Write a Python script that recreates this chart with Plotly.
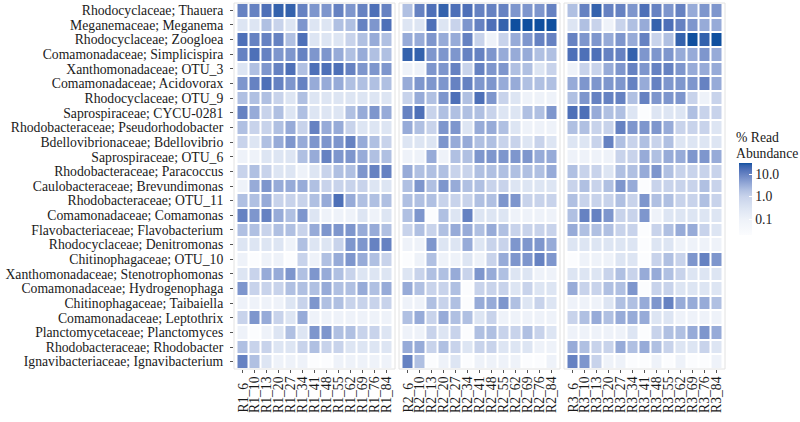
import math
import plotly.graph_objects as go

# ---------------- data ----------------
taxa = [
    "Rhodocyclaceae; Thauera",
    "Meganemaceae; Meganema",
    "Rhodocyclaceae; Zoogloea",
    "Comamonadaceae; Simplicispira",
    "Xanthomonadaceae; OTU_3",
    "Comamonadaceae; Acidovorax",
    "Rhodocyclaceae; OTU_9",
    "Saprospiraceae; CYCU-0281",
    "Rhodobacteraceae; Pseudorhodobacter",
    "Bdellovibrionaceae; Bdellovibrio",
    "Saprospiraceae; OTU_6",
    "Rhodobacteraceae; Paracoccus",
    "Caulobacteraceae; Brevundimonas",
    "Rhodobacteraceae; OTU_11",
    "Comamonadaceae; Comamonas",
    "Flavobacteriaceae; Flavobacterium",
    "Rhodocyclaceae; Denitromonas",
    "Chitinophagaceae; OTU_10",
    "Xanthomonadaceae; Stenotrophomonas",
    "Comamonadaceae; Hydrogenophaga",
    "Chitinophagaceae; Taibaiella",
    "Comamonadaceae; Leptothrix",
    "Planctomycetaceae; Planctomyces",
    "Rhodobacteraceae; Rhodobacter",
    "Ignavibacteriaceae; Ignavibacterium",
]

days = [6, 10, 13, 20, 27, 34, 41, 48, 55, 62, 69, 76, 84]
reactors = ["R1", "R2", "R3"]

# % read abundance, rows follow `taxa`, columns follow `days`
R1 = [
    [10, 10, 16, 24, 24, 10, 6, 6, 10, 6, 10, 16, 10],
    [0.3, 0.3, 2, 1, 0.3, 6, 0.3, 0.3, 2, 2, 10, 6, 16],
    [16, 10, 10, 10, 2, 16, 0.3, 0.3, 0.3, 1, 2, 3.5, 2],
    [10, 16, 10, 6, 6, 10, 6, 6, 3.5, 2, 3.5, 2, 2],
    [0.3, 2, 6, 10, 16, 2, 16, 16, 16, 10, 6, 6, 6],
    [6, 10, 16, 10, 6, 10, 3.5, 3.5, 3.5, 2, 2, 2, 2],
    [2, 2, 2, 1, 0.3, 2, 0.3, 0.3, 0.3, 0.3, 0.3, 0.3, 0.3],
    [10, 3.5, 1, 2, 0.3, 2, 0.3, 0.3, 0.3, 2, 3.5, 6, 3.5],
    [2, 1, 1, 2, 3.5, 1, 10, 3.5, 3.5, 1, 0.3, 0.3, 0.3],
    [1, 0.3, 2, 3.5, 6, 3.5, 6, 6, 6, 10, 3.5, 2, 1],
    [0.1, 0.1, 0.3, 0.3, 0.3, 2, 3.5, 10, 6, 6, 3.5, 2, 2],
    [1, 2, 1, 0.3, 0.3, 0.1, 0.3, 1, 2, 2, 6, 10, 10],
    [0.1, 3.5, 6, 3.5, 3.5, 3.5, 2, 1, 1, 1, 1, 0.3, 0.3],
    [2, 2, 3.5, 1, 1, 1, 2, 3.5, 16, 3.5, 2, 2, 2],
    [10, 6, 10, 3.5, 2, 6, 0.3, 0.1, 0.1, 0.1, 0.3, 0.1, 0.3],
    [2, 2, 1, 2, 2, 1, 3.5, 6, 6, 6, 3.5, 3.5, 2],
    [0.3, 0.3, 0.3, 0.3, 0.1, 2, 0.3, 0.3, 1, 6, 6, 10, 10],
    [0.1, 0.02, 0.1, 0.1, 0.02, 1, 0.1, 2, 3.5, 6, 3.5, 2, 1],
    [0.3, 1, 3.5, 3.5, 6, 2, 6, 3.5, 2, 1, 0.3, 0.3, 0.3],
    [6, 1, 1, 1, 2, 2, 2, 3.5, 2, 2, 3.5, 2, 3.5],
    [0.1, 0.1, 0.1, 0.1, 0.3, 1, 6, 2, 2, 1, 1, 1, 1],
    [1, 6, 3.5, 1, 0.3, 3.5, 0.1, 0.1, 0.1, 0.1, 0.1, 0.1, 0.1],
    [0.1, 0.02, 0.1, 0.3, 2, 0.3, 6, 6, 2, 2, 1, 1, 0.3],
    [2, 1, 1, 0.3, 0.3, 1, 2, 1, 1, 0.3, 0.3, 0.3, 0.3],
    [10, 2, 0.3, 0.1, 0.1, 0.1, 0.02, 0.02, 0.1, 0.1, 0.1, 0.1, 0.1],
]

R2 = [
    [2, 10, 16, 24, 16, 16, 10, 10, 10, 6, 6, 6, 10],
    [0.3, 0.3, 16, 0.3, 1, 6, 10, 16, 24, 35, 35, 35, 35],
    [3.5, 3.5, 6, 3.5, 3.5, 10, 1, 0.1, 1, 3.5, 6, 10, 10],
    [24, 24, 6, 6, 6, 10, 10, 6, 3.5, 3.5, 3.5, 2, 2],
    [0.1, 0.1, 6, 6, 10, 1, 10, 6, 6, 2, 2, 0.3, 1],
    [3.5, 6, 6, 6, 10, 10, 6, 6, 3.5, 3.5, 2, 2, 2],
    [1, 3.5, 2, 6, 16, 2, 16, 6, 1, 0.3, 0.1, 0.1, 0.1],
    [10, 16, 1, 2, 2, 2, 2, 1, 0.3, 0.3, 2, 2, 6],
    [3.5, 2, 1, 6, 6, 0.3, 3.5, 3.5, 2, 0.3, 0.1, 0.1, 0.1],
    [0.3, 0.3, 0.3, 6, 3.5, 3.5, 2, 2, 1, 1, 0.3, 1, 0.3],
    [0.1, 0.1, 3.5, 0.1, 2, 2, 6, 6, 6, 6, 6, 3.5, 3.5],
    [3.5, 2, 2, 2, 1, 1, 2, 2, 2, 2, 2, 2, 3.5],
    [2, 6, 2, 6, 3.5, 2, 2, 1, 1, 0.3, 0.3, 0.3, 0.3],
    [2, 2, 2, 1, 1, 1, 2, 2, 6, 6, 1, 1, 1],
    [2, 6, 0.02, 2, 0.3, 10, 0.3, 0.3, 0.3, 0.1, 0.1, 0.1, 0.1],
    [1, 2, 1, 2, 3.5, 3.5, 2, 3.5, 2, 1, 1, 1, 1],
    [0.1, 0.1, 6, 0.3, 0.3, 3.5, 0.3, 1, 1, 6, 6, 6, 3.5],
    [0.02, 0.1, 2, 0.1, 0.1, 0.3, 0.1, 1, 3.5, 6, 6, 10, 6],
    [0.3, 1, 2, 2, 3.5, 1, 6, 3.5, 2, 0.3, 0.3, 0.1, 0.1],
    [3.5, 2, 1, 1, 2, 0.02, 1, 1, 1, 0.3, 1, 0.3, 0.3],
    [0.1, 0.1, 2, 1, 2, 0.02, 3.5, 3.5, 6, 2, 0.3, 1, 0.3],
    [2, 3.5, 1, 3.5, 2, 2, 0.3, 1, 0.1, 0.1, 0.1, 0.1, 0.1],
    [0.1, 0.1, 1, 0.3, 1, 0.02, 2, 2, 1, 1, 2, 1, 0.3],
    [3.5, 3.5, 1, 2, 1, 0.3, 1, 1, 0.3, 0.3, 0.3, 0.1, 0.1],
    [10, 2, 0.02, 0.1, 0.3, 0.02, 0.1, 0.1, 0.1, 0.1, 0.02, 0.02, 0.1],
]

R3 = [
    [2, 10, 24, 10, 10, 6, 16, 10, 6, 10, 3.5, 6, 6],
    [0.3, 2, 1, 0.1, 1, 2, 3.5, 24, 16, 10, 6, 3.5, 3.5],
    [10, 6, 6, 3.5, 6, 3.5, 10, 1, 2, 24, 35, 24, 35],
    [16, 16, 16, 10, 10, 24, 6, 6, 6, 3.5, 3.5, 6, 3.5],
    [0.1, 1, 1, 3.5, 6, 10, 6, 10, 10, 6, 3.5, 3.5, 3.5],
    [3.5, 6, 6, 6, 6, 10, 3.5, 10, 6, 6, 6, 10, 3.5],
    [2, 6, 10, 10, 10, 2, 10, 6, 6, 6, 1, 0.1, 1],
    [16, 16, 3.5, 2, 2, 0.3, 0.02, 0.3, 0.3, 0.3, 2, 1, 1],
    [2, 2, 1, 1, 10, 6, 6, 6, 3.5, 1, 1, 1, 0.3],
    [0.3, 0.3, 1, 10, 2, 1, 2, 1, 2, 0.3, 0.3, 0.3, 0.3],
    [0.1, 0.1, 0.1, 0.1, 1, 1, 3.5, 2, 3.5, 3.5, 6, 6, 3.5],
    [2, 1, 1, 0.3, 2, 2, 3.5, 6, 2, 1, 1, 1, 1],
    [1, 2, 1, 2, 6, 3.5, 0.02, 1, 1, 1, 1, 2, 1],
    [2, 1, 1, 1, 2, 1, 6, 2, 2, 1, 1, 2, 1],
    [2, 10, 10, 6, 1, 1, 6, 0.1, 0.3, 0.3, 0.3, 0.3, 0.3],
    [3.5, 2, 2, 2, 1, 1, 0.02, 1, 2, 3.5, 3.5, 1, 0.3],
    [0.3, 0.3, 0.3, 0.3, 0.3, 0.3, 0.02, 0.3, 0.3, 0.1, 0.1, 0.1, 0.1],
    [0.02, 0.1, 0.1, 0.1, 0.3, 0.3, 0.02, 1, 2, 1, 6, 10, 6],
    [0.3, 0.3, 0.3, 1, 2, 1, 3.5, 3.5, 2, 1, 0.3, 0.3, 0.3],
    [3.5, 1, 1, 2, 2, 6, 0.02, 1, 1, 0.3, 0.3, 0.3, 0.3],
    [0.1, 0.1, 0.1, 0.3, 2, 2, 3.5, 6, 10, 3.5, 3.5, 3.5, 2],
    [1, 2, 3.5, 2, 3.5, 3.5, 3.5, 0.3, 0.3, 0.1, 0.1, 0.1, 0.1],
    [0.1, 0.1, 0.1, 0.1, 0.1, 0.3, 0.02, 1, 2, 2, 3.5, 6, 3.5],
    [3.5, 2, 1, 1, 3.5, 2, 3.5, 2, 1, 0.3, 0.3, 1, 0.3],
    [10, 6, 1, 0.1, 0.1, 0.02, 0.02, 0.1, 0.02, 0.1, 0.02, 0.02, 0.1],
]

legend_ticks = [0.1, 1.0, 10.0]
legend_ticktext = ["0.1", "1.0", "10.0"]
legend_title_lines = ["% Read", "Abundance"]

# ---------------- styling ----------------
FONT = "Liberation Serif"
FS = 13.7
W, H = 800, 422
ML, MR, MT, MB = 233, 75, 3, 53
PW = W - ML - MR
PH = H - MT - MB

def px_x(x):
    return (x - ML) / PW

def px_y(y):
    return (H - MB - y) / PH

ZMIN, ZMAX = -1.70, 1.49
colorscale = [
    [0.000, "#fbfcfe"],
    [0.219, "#eef2f9"],
    [0.369, "#dde5f3"],
    [0.533, "#c8d3eb"],
    [0.627, "#b0c0e2"],
    [0.703, "#97abd8"],
    [0.777, "#7e96cd"],
    [0.846, "#6682c2"],
    [0.910, "#4e70b8"],
    [0.966, "#3462ad"],
    [1.000, "#0f4f9f"],
]

domains = [(px_x(234), px_x(395)), (px_x(399), px_x(560)), (px_x(564), px_x(725))]
data_by_reactor = [R1, R2, R3]

fig = go.Figure()
for i, (rname, mat) in enumerate(zip(reactors, data_by_reactor)):
    xlabels = [f"{rname}_{d}" for d in days]
    z = [[math.log10(v) for v in row] for row in mat]
    xa = "x" if i == 0 else f"x{i+1}"
    fig.add_trace(go.Heatmap(
        x=xlabels, y=taxa, z=z, customdata=mat,
        xaxis=xa, yaxis="y",
        zmin=ZMIN, zmax=ZMAX, colorscale=colorscale,
        xgap=2, ygap=2,
        showscale=(i == 0),
        hovertemplate="%{y}<br>%{x}: %{customdata}%<extra></extra>",
        colorbar=dict(
            x=px_x(739), xanchor="left", xpad=0,
            y=px_y(163), yanchor="top", ypad=0,
            len=72, lenmode="pixels", thickness=13,
            outlinewidth=0,
            tickvals=[math.log10(t) for t in legend_ticks],
            ticktext=legend_ticktext,
            ticks="inside", tickcolor="white", ticklen=3, tickwidth=1,
            tickfont=dict(family=FONT, size=FS, color="#1a1a1a"),
        ),
    ))
    axname = "xaxis" if i == 0 else f"xaxis{i+1}"
    fig.layout[axname] = dict(
        domain=list(domains[i]), anchor="y", automargin=False,
        type="category", categoryorder="array", categoryarray=xlabels,
        tickmode="array", tickvals=xlabels,
        showgrid=False, zeroline=False, showline=False,
        ticks="outside", ticklen=3, tickwidth=1, tickcolor="#555555",
        showticklabels=False, fixedrange=True,
    )
    fig.add_shape(type="rect", xref=f"{xa} domain", yref="y domain",
                  x0=0, x1=1, y0=0, y1=1,
                  line=dict(color="#e2e2e2", width=1), layer="above")
    for lab in xlabels:
        fig.add_annotation(
            x=lab, xref=xa, y=px_y(414), yref="paper",
            text=lab, textangle=-90, showarrow=False,
            xanchor="center", yanchor="bottom", borderpad=0,
            font=dict(family=FONT, size=FS, color="#1a1a1a"),
        )

fig.update_layout(
    yaxis=dict(
        domain=[0, 1], anchor="x", type="category", automargin=False,
        categoryorder="array", categoryarray=taxa, autorange="reversed",
        tickmode="array", tickvals=taxa, ticktext=taxa,
        showgrid=False, zeroline=False, showline=False,
        ticks="outside", ticklen=3, tickwidth=1, tickcolor="#555555",
        tickfont=dict(family=FONT, size=FS, color="#1a1a1a"),
        ticklabelstandoff=4,
    ),
    width=W, height=H,
    margin=dict(l=ML, r=MR, t=MT, b=MB, pad=0),
    paper_bgcolor="white", plot_bgcolor="white",
    font=dict(family=FONT, size=FS, color="#1a1a1a"),
    showlegend=False,
)

for line, ypix in zip(legend_title_lines, [137.5, 153.5]):
    fig.add_annotation(
        x=px_x(735), xref="paper", y=px_y(ypix), yref="paper",
        text=line, showarrow=False, align="left",
        xanchor="left", yanchor="middle", borderpad=0,
        font=dict(family=FONT, size=FS, color="#1a1a1a"),
    )

fig.write_html(
    "out.html",
    config={"displayModeBar": False},
    post_script="document.body.style.margin='0';document.body.style.padding='0';",
)
